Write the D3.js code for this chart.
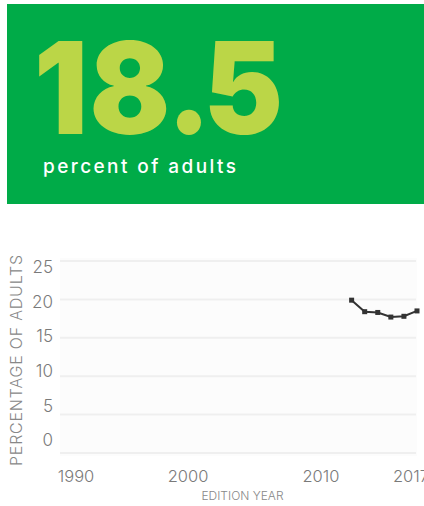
<!DOCTYPE html>
<html>
<head>
<meta charset="utf-8">
<script src="https://cdn.jsdelivr.net/npm/d3@7"></script>
<style>
  body { margin: 0; background: #fff; }
  text { font-family: Inter, 'Noto Sans', sans-serif; }
</style>
</head>
<body>
<div id="chart"></div>
<script>
// Headline values
const headline = '18.5'
const headlineLabel = 'percent of adults'

// Series
const years = [2012, 2013, 2014, 2015, 2016, 2017]
const values = [19.9, 18.4, 18.3, 17.7, 17.8, 18.5]

// Axis ticks
const yTicks = [0, 5, 10, 15, 20, 25]
const xTicks = [1990, 2000, 2010, 2017]

const width = 424
const height = 506

const svg = d3.select('#chart')
  .append('svg')
  .attr('width', width)
  .attr('height', height)

// Headline panel
svg.append('rect')
  .attr('x', 7).attr('y', 4)
  .attr('width', width - 7).attr('height', 200)
  .attr('fill', '#00ab48')

// big number, set glyph by glyph so the tight spacing holds
const glyphCenters = [61, 130, 189, 243.5]
const squeeze = 0.93
svg.append('g')
  .attr('transform', `scale(${squeeze}, 1)`)
  .selectAll('text')
  .data(headline.split(''))
  .enter().append('text')
  .text(d => d)
  .attr('x', (d, i) => glyphCenters[i] / squeeze)
  .attr('y', 134)
  .attr('text-anchor', 'middle')
  .attr('font-size', 128)
  .attr('font-weight', 900)
  .attr('fill', '#bbd647')

svg.append('text')
  .text(headlineLabel)
  .attr('x', 43).attr('y', 173)
  .attr('font-size', 19)
  .attr('font-weight', 500)
  .attr('textLength', 193)
  .attr('lengthAdjust', 'spacing')
  .attr('fill', '#fff')

// Chart scales
const x = d3.scaleLinear().domain([1989.7, 2017]).range([60, 417])
const y = d3.scaleLinear().domain([0, 25]).range([453, 261])
// tick labels in the original sit a little off the grid
const xLabel = d3.scaleLinear().domain(xTicks).range([76, 188, 321, 411])
const yLabel = d3.scaleLinear().domain([0, 25]).range([440, 267])

// Plot background
svg.append('rect')
  .attr('x', x(1989.7)).attr('y', y(25) - 3)
  .attr('width', x(2017) - x(1989.7)).attr('height', y(0) - y(25) + 6)
  .attr('fill', '#fcfcfc')

// Grid lines
svg.append('g')
  .selectAll('line')
  .data(yTicks)
  .enter().append('line')
  .attr('x1', x(1989.7)).attr('x2', x(2017) - 1)
  .attr('y1', d => y(d)).attr('y2', d => y(d))
  .attr('stroke', '#efefef')
  .attr('stroke-width', 2)

// Y tick labels
svg.append('g')
  .selectAll('text')
  .data(yTicks)
  .enter().append('text')
  .text(d => d)
  .attr('x', 53)
  .attr('y', d => yLabel(d))
  .attr('dy', '0.36em')
  .attr('text-anchor', 'end')
  .attr('font-size', 17)
  .attr('font-weight', 300)
  .attr('fill', '#7a7a7a')

// X tick labels
svg.append('g')
  .selectAll('text')
  .data(xTicks)
  .enter().append('text')
  .text(d => d)
  .attr('x', d => xLabel(d))
  .attr('y', 482)
  .attr('text-anchor', 'middle')
  .attr('font-size', 16.5)
  .attr('font-weight', 300)
  .attr('fill', '#7a7a7a')

// Axis titles
svg.append('text')
  .text('EDITION YEAR')
  .attr('x', 242.5).attr('y', 500)
  .attr('text-anchor', 'middle')
  .attr('font-size', 12)
  .attr('font-weight', 300)
  .attr('fill', '#888')

svg.append('text')
  .text('PERCENTAGE OF ADULTS')
  .attr('transform', 'translate(22, 360.5) rotate(-90)')
  .attr('text-anchor', 'middle')
  .attr('font-size', 16)
  .attr('font-weight', 300)
  .attr('textLength', 211)
  .attr('fill', '#888')

// Series line
const points = years.map((yr, i) => [yr, values[i]])
svg.append('path')
  .datum(points)
  .attr('d', d3.line().x(d => x(d[0])).y(d => y(d[1])))
  .attr('fill', 'none')
  .attr('stroke', '#333')
  .attr('stroke-width', 2)

svg.append('g')
  .selectAll('rect')
  .data(points)
  .enter().append('rect')
  .attr('x', d => x(d[0]) - 2.5)
  .attr('y', d => y(d[1]) - 2.5)
  .attr('width', 5).attr('height', 5)
  .attr('fill', '#333')
</script>
</body>
</html>
